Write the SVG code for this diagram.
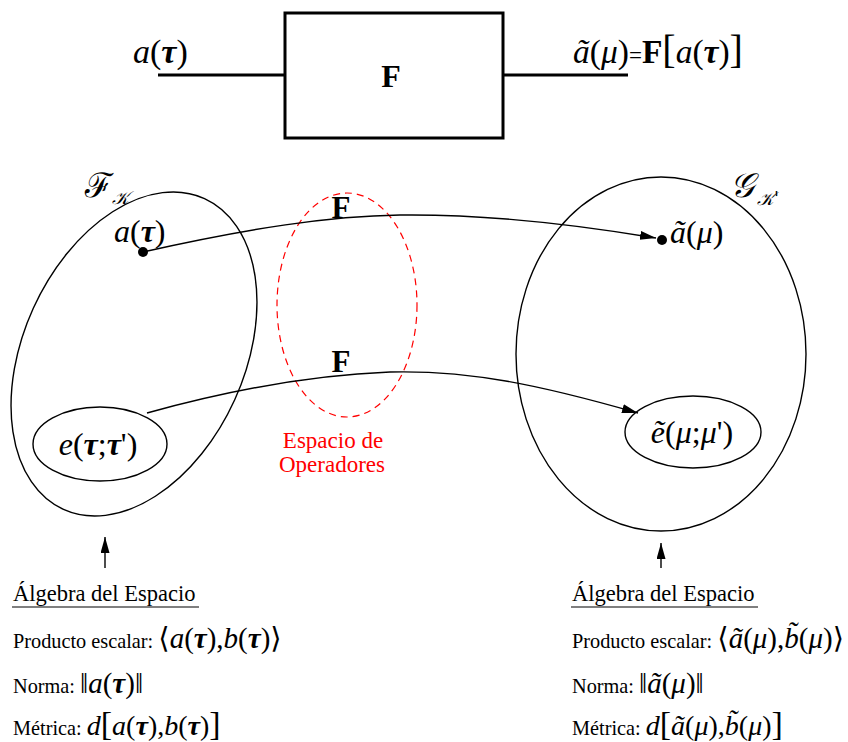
<svg xmlns="http://www.w3.org/2000/svg" width="848" height="742" viewBox="0 0 848 742">
<style>
.t{font-family:"Liberation Serif","DejaVu Serif",serif;fill:#000}
.i{font-style:italic}
.b{font-weight:bold}
.ln{stroke:#000;stroke-width:1.4;fill:none}
.thick{stroke:#000;stroke-width:3;fill:none}
.red{fill:#ff0000}
.cal{font-family:"DejaVu Serif","Noto Sans",serif;font-style:italic;fill:#000}
</style>
<defs>
<marker id="ah" markerUnits="userSpaceOnUse" markerWidth="18" markerHeight="10" refX="16" refY="4.5" orient="auto">
<path d="M0,0 L16,4.5 L0,9 z" fill="#000"/>
</marker>
</defs>
<rect width="848" height="742" fill="#fff"/>

<g id="block">
<line class="thick" x1="158" y1="75" x2="285" y2="75"/>
<rect class="thick" x="285" y="13" width="218" height="125"/>
<line class="thick" x1="503" y1="75" x2="628" y2="75"/>
<text class="t b" x="391" y="87" font-size="32" text-anchor="middle">F</text>
<text class="t" x="133" y="63" font-size="34"><tspan class="i">a</tspan>(<tspan class="i b">τ</tspan>)</text>
<text class="t" x="573" y="63" font-size="33.5"><tspan class="i">ã</tspan>(<tspan class="i">μ</tspan>)<tspan font-size="23">=</tspan><tspan class="b">F</tspan><tspan font-size="40">[</tspan><tspan class="i">a</tspan>(<tspan class="i b">τ</tspan>)<tspan font-size="40">]</tspan></text>
</g>

<g id="spaceF">
<ellipse class="ln" cx="134" cy="354" rx="110.6" ry="170.7" transform="rotate(24.4 134 354)"/>
<text class="cal" x="84" y="197" font-size="34">ℱ</text>
<text class="cal" x="112" y="204" font-size="18">𝒦</text>
</g>

<g id="spaceG">
<ellipse class="ln" cx="661" cy="354" rx="145" ry="177"/>
<text class="cal" x="730" y="197" font-size="34">𝒢</text>
<text class="cal" x="757" y="205" font-size="18">𝒦'</text>
</g>

<g id="operadores">
<ellipse cx="347" cy="305" rx="70" ry="112" fill="none" stroke="#ff0000" stroke-width="1.2" stroke-dasharray="7,5"/>
<text class="t red" x="333" y="448" font-size="23" text-anchor="middle">Espacio de</text>
<text class="t red" x="332" y="472" font-size="23" text-anchor="middle">Operadores</text>
</g>

<g id="a-tau">
<circle cx="143" cy="252" r="5" fill="#000"/>
<text class="t" x="114" y="242" font-size="32"><tspan class="i">a</tspan>(<tspan class="i b">τ</tspan>)</text>
</g>

<g id="a-mu">
<circle cx="662" cy="240" r="5" fill="#000"/>
<text class="t" x="670" y="243" font-size="32"><tspan class="i">ã</tspan>(<tspan class="i">μ</tspan>)</text>
</g>

<g id="e-tau">
<ellipse class="ln" cx="100" cy="444" rx="67" ry="37"/>
<text class="t" x="98" y="455" font-size="32" text-anchor="middle"><tspan class="i">e</tspan>(<tspan class="i b">τ</tspan>;<tspan class="i b">τ</tspan>')</text>
</g>

<g id="e-mu">
<ellipse class="ln" cx="693" cy="432" rx="68" ry="36"/>
<text class="t" x="692" y="443" font-size="32" text-anchor="middle"><tspan class="i">ẽ</tspan>(<tspan class="i">μ</tspan>;<tspan class="i">μ</tspan>')</text>
</g>

<g id="connectors">
<path class="ln" d="M143,252 C250,228 330,216 400,215 C480,214 560,222 656,238" marker-end="url(#ah)"/>
<path class="ln" d="M147,413 C230,390 310,375 390,372 C470,370 540,385 638,413" marker-end="url(#ah)"/>
<text class="t b" x="341" y="218" font-size="31" text-anchor="middle">F</text>
<text class="t b" x="341" y="372" font-size="31" text-anchor="middle">F</text>
<line class="ln" x1="105" y1="568" x2="105" y2="537" marker-end="url(#ah)"/>
<line class="ln" x1="661" y1="568" x2="661" y2="543" marker-end="url(#ah)"/>
</g>

<g id="algebra-left">
<text class="t" x="13" y="601" font-size="22.5">Álgebra del Espacio</text>
<line x1="12" y1="607" x2="199" y2="607" stroke="#000" stroke-width="1.2"/>
<text class="t" x="13" y="648" font-size="20.3">Producto escalar: <tspan font-size="29">⟨<tspan class="i">a</tspan>(<tspan class="i b">τ</tspan>),<tspan class="i">b</tspan>(<tspan class="i b">τ</tspan>)⟩</tspan></text>
<text class="t" x="13" y="693" font-size="20.3">Norma: <tspan font-size="29">‖<tspan class="i">a</tspan>(<tspan class="i b">τ</tspan>)‖</tspan></text>
<text class="t" x="13" y="735" font-size="20.3">Métrica: <tspan font-size="28"><tspan class="i">d</tspan><tspan font-size="34">[</tspan><tspan class="i">a</tspan>(<tspan class="i b">τ</tspan>),<tspan class="i">b</tspan>(<tspan class="i b">τ</tspan>)<tspan font-size="34">]</tspan></tspan></text>
</g>

<g id="algebra-right">
<text class="t" x="572" y="601" font-size="22.5">Álgebra del Espacio</text>
<line x1="571" y1="607" x2="758" y2="607" stroke="#000" stroke-width="1.2"/>
<text class="t" x="572" y="648" font-size="20.3">Producto escalar: <tspan font-size="29">⟨<tspan class="i">ã</tspan>(<tspan class="i">μ</tspan>),<tspan class="i">b̃</tspan>(<tspan class="i">μ</tspan>)⟩</tspan></text>
<text class="t" x="572" y="693" font-size="20.3">Norma: <tspan font-size="29">‖<tspan class="i">ã</tspan>(<tspan class="i">μ</tspan>)‖</tspan></text>
<text class="t" x="572" y="735" font-size="20.3">Métrica: <tspan font-size="28"><tspan class="i">d</tspan><tspan font-size="34">[</tspan><tspan class="i">ã</tspan>(<tspan class="i">μ</tspan>),<tspan class="i">b̃</tspan>(<tspan class="i">μ</tspan>)<tspan font-size="34">]</tspan></tspan></text>
</g>
</svg>
